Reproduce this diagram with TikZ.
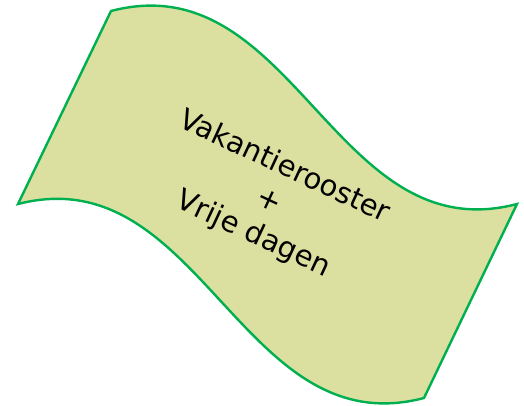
\documentclass[tikz,border=0pt]{standalone}
\usepackage{fontspec}
\setmainfont{DejaVu Sans}
\definecolor{flagfill}{RGB}{219,223,159}
\definecolor{flagline}{RGB}{0,176,80}
\tikzset{
  flagshape/.style={draw=flagline, fill=flagfill, line width=2.4pt, line join=miter},
  flagtext/.style={align=center, font=\fontsize{29}{37}\selectfont, rotate=-25, inner sep=0pt}
}
\begin{document}
\begin{tikzpicture}[x=1pt,y=-1pt]
\useasboundingbox (0,0) rectangle (524,405);
\path[flagshape] (111,11) .. controls (294,-37) and (334,252) .. (517,204)
  -- (424,398) .. controls (241,446) and (201,157) .. (18,204) -- cycle;
\node[flagtext] (label) at (269,201) {Vakantierooster\\+\\Vrije dagen};
\end{tikzpicture}
\end{document}
